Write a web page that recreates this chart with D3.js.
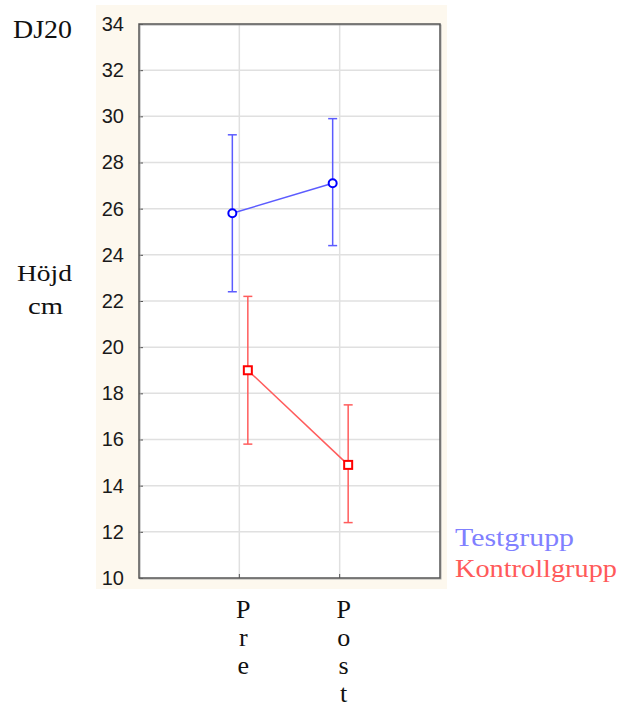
<!DOCTYPE html>
<html lang="sv">
<head>
  <meta charset="UTF-8">
  <title>DJ20 höjd</title>
  <script src="https://cdn.jsdelivr.net/npm/d3@7"></script>
  <style>
    body { margin: 0; background: #fff; }
    svg { display: block; }
  </style>
</head>
<body>
<script>
  // data
  const phases = ["Pre", "Post"];
  const yTicks = [10, 12, 14, 16, 18, 20, 22, 24, 26, 28, 30, 32, 34];
  const testMean = [25.8, 27.1];
  const testLow = [22.4, 24.4];
  const testHigh = [29.2, 29.9];
  const ctrlMean = [19.0, 14.9];
  const ctrlLow = [15.8, 12.4];
  const ctrlHigh = [22.2, 17.5];
  const legendLabels = ["Testgrupp", "Kontrollgrupp"];

  const width = 628, height = 707;
  const plot = { left: 139, right: 440, top: 24, bottom: 578 };

  const svg = d3.select("body").append("svg")
    .attr("width", width)
    .attr("height", height);

  // cream panel behind the plot
  svg.append("rect")
    .attr("x", 96).attr("y", 5)
    .attr("width", 351).attr("height", 584)
    .attr("fill", "#fdf8ee");

  svg.append("rect")
    .attr("x", plot.left).attr("y", plot.top)
    .attr("width", plot.right - plot.left).attr("height", plot.bottom - plot.top)
    .attr("fill", "#fff");

  const x = d3.scalePoint().domain(phases).range([plot.left, plot.right]).padding(1);
  const y = d3.scaleLinear().domain([10, 34]).range([plot.bottom, plot.top]);

  // grid
  svg.append("g").selectAll("line.h")
    .data(yTicks.slice(1, -1))
    .enter().append("line")
    .attr("x1", plot.left).attr("x2", plot.right)
    .attr("y1", d => y(d)).attr("y2", d => y(d))
    .attr("stroke", "#e0e0e0").attr("stroke-width", 1.5);
  svg.append("g").selectAll("line.v")
    .data(phases)
    .enter().append("line")
    .attr("x1", d => x(d)).attr("x2", d => x(d))
    .attr("y1", plot.top).attr("y2", plot.bottom)
    .attr("stroke", "#e0e0e0").attr("stroke-width", 1.5);

  // y axis
  const yAxis = svg.append("g")
    .attr("transform", `translate(${plot.left},0)`)
    .call(d3.axisLeft(y).tickValues(yTicks).tickSize(-4).tickPadding(15));
  yAxis.select(".domain").remove();
  yAxis.selectAll(".tick line").attr("stroke", "#555");
  yAxis.selectAll("text")
    .attr("font-family", "Liberation Sans, Arial, sans-serif")
    .attr("font-size", 20)
    .attr("fill", "#1a1a1a");

  // x ticks at bottom
  svg.append("g").selectAll("line")
    .data(phases)
    .enter().append("line")
    .attr("x1", d => x(d)).attr("x2", d => x(d))
    .attr("y1", plot.bottom - 4).attr("y2", plot.bottom)
    .attr("stroke", "#555");

  // frame
  svg.append("rect")
    .attr("x", plot.left + 1).attr("y", plot.top + 1)
    .attr("width", plot.right - plot.left).attr("height", plot.bottom - plot.top)
    .attr("fill", "none").attr("stroke", "#aaa").attr("stroke-width", 1);
  svg.append("rect")
    .attr("x", plot.left).attr("y", plot.top)
    .attr("width", plot.right - plot.left).attr("height", plot.bottom - plot.top)
    .attr("fill", "none").attr("stroke", "#555").attr("stroke-width", 1.5);

  // series
  function drawSeries(mean, low, high, offset, lineColor, markColor, shape) {
    const g = svg.append("g");
    const pts = phases.map((p, i) => ({ x: x(p) + offset, m: mean[i], lo: low[i], hi: high[i] }));
    g.append("path")
      .datum(pts)
      .attr("fill", "none")
      .attr("stroke", lineColor)
      .attr("stroke-width", 1.5)
      .attr("d", d3.line().x(d => d.x).y(d => y(d.m)));
    pts.forEach(d => {
      g.append("line")
        .attr("x1", d.x).attr("x2", d.x)
        .attr("y1", y(d.lo)).attr("y2", y(d.hi))
        .attr("stroke", lineColor).attr("stroke-width", 1.5);
      [d.lo, d.hi].forEach(v => {
        g.append("line")
          .attr("x1", d.x - 4.5).attr("x2", d.x + 4.5)
          .attr("y1", y(v)).attr("y2", y(v))
          .attr("stroke", lineColor).attr("stroke-width", 1.5);
      });
      if (shape === "circle") {
        g.append("circle")
          .attr("cx", d.x).attr("cy", y(d.m)).attr("r", 4)
          .attr("fill", "#fff").attr("stroke", markColor).attr("stroke-width", 2);
      } else {
        g.append("rect")
          .attr("x", d.x - 4).attr("y", y(d.m) - 4)
          .attr("width", 8).attr("height", 8)
          .attr("fill", "#fff").attr("stroke", markColor).attr("stroke-width", 2);
      }
    });
  }
  drawSeries(testMean, testLow, testHigh, -7, "#5c5cff", "#0000ff", "circle");
  drawSeries(ctrlMean, ctrlLow, ctrlHigh, 8.5, "#ff5c5c", "#ff0000", "square");

  const serif = "Liberation Serif, Times New Roman, serif";

  function label(txt, x0, y0, size, len, color) {
    return svg.append("text")
      .attr("x", x0).attr("y", y0)
      .attr("font-family", serif).attr("font-size", size)
      .attr("fill", color || "#111")
      .attr("textLength", len).attr("lengthAdjust", "spacingAndGlyphs")
      .text(txt);
  }

  // x labels, letters stacked
  phases.forEach(p => {
    p.split("").forEach((ch, i) => {
      svg.append("text")
        .attr("x", x(p) + 4).attr("y", 618 + i * 28)
        .attr("text-anchor", "middle")
        .attr("font-family", serif).attr("font-size", 26)
        .attr("fill", "#111")
        .text(ch);
    });
  });

  // titles
  label("DJ20", 13, 38, 25, 59);
  label("Höjd", 17, 281, 24, 55);
  label("cm", 28, 314, 24, 35);

  // legend
  const legendColors = ["#8080ff", "#ff5a5a"];
  const legendLens = [119, 162];
  legendLabels.forEach((d, i) => {
    label(d, 455, 546 + i * 31, 25, legendLens[i], legendColors[i]);
  });
</script>
</body>
</html>
